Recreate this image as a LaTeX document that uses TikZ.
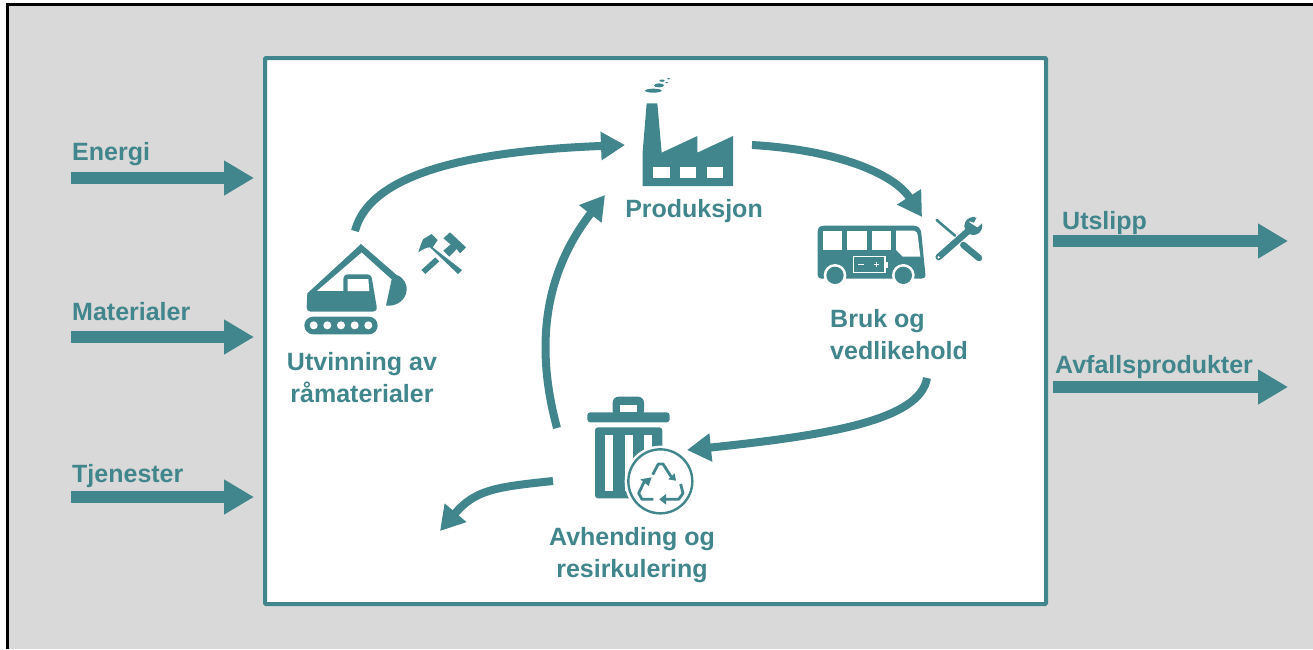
\documentclass[tikz,border=0pt]{standalone}
\usepackage{fontspec}
\setmainfont{Liberation Sans}
\usetikzlibrary{arrows.meta}
\definecolor{teal1}{HTML}{41868C}
\definecolor{panel}{HTML}{D9D9D9}
\tikzset{
  lbl/.style={text=teal1,font=\bfseries\fontsize{25}{32}\selectfont,inner sep=0pt,anchor=base west},
  clbl/.style={text=teal1,font=\bfseries\fontsize{25}{32}\selectfont,inner sep=0pt,align=center},
  flow/.style={draw=teal1,line width=11.5pt,-{Triangle[length=30pt,width=33pt]}},
  cycle/.style={draw=teal1,line width=8pt,-{Triangle[length=24pt,width=27pt]}},
  ink/.style={fill=teal1,draw=none},
  gap/.style={fill=white,draw=none},
  icon/.style={scale=0.33333}
}
\begin{document}
\begin{tikzpicture}[x=1pt,y=-1pt]
\useasboundingbox (0,0) rectangle (1313,649);
\fill[white] (0,0) rectangle (1313,649);
\fill[panel] (7,4) rectangle (1313,649);
\draw[black,line width=3pt] (7,649) -- (7,4) -- (1313,4);
\node[draw=teal1,fill=white,line width=4pt,minimum width=781pt,minimum height=546pt,inner sep=0pt,rounded corners=1pt] (system) at (655.5,331) {};

% inputs and outputs
\coordinate (inA) at (71,178); \coordinate (inAe) at (254,178);
\coordinate (inB) at (71,337); \coordinate (inBe) at (254,337);
\coordinate (inC) at (71,497); \coordinate (inCe) at (254,497);
\coordinate (outA) at (1053,241); \coordinate (outAe) at (1288,241);
\coordinate (outB) at (1053,387); \coordinate (outBe) at (1288,387);
\draw[flow] (inA) -- (inAe);
\draw[flow] (inB) -- (inBe);
\draw[flow] (inC) -- (inCe);
\draw[flow] (outA) -- (outAe);
\draw[flow] (outB) -- (outBe);
\node[lbl] (tEnergi) at (72,160) {Energi};
\node[lbl] (tMat) at (72,320) {Materialer};
\node[lbl] (tTje) at (72,482) {Tjenester};
\node[lbl] (tUts) at (1062,229) {Utslipp};
\node[lbl] (tAvf) at (1055,373) {Avfallsprodukter};

% cycle labels
\node[clbl] (tUtv) at (362,377.5) {Utvinning av\\råmaterialer};
\node[clbl] (tPro) at (694,211) {Produksjon};
\node[clbl,align=left] (tBruk) at (899,335) {Bruk og\\vedlikehold};
\node[clbl] (tAvh) at (632,555) {Avhending og\\resirkulering};

% cycle connectors
\coordinate (mine) at (355,231); \coordinate (factoryIn) at (625,145);
\coordinate (factoryOut) at (752,145); \coordinate (busIn) at (922,217);
\coordinate (busOut) at (927,378); \coordinate (binIn) at (687,450);
\coordinate (binUp) at (557,428); \coordinate (factoryIn2) at (605,195);
\coordinate (binOut) at (553,481); \coordinate (waste) at (440,531);
\draw[cycle] (mine) .. controls (372,165) and (500,150) .. (factoryIn);
\draw[cycle] (factoryOut) .. controls (840,150) and (895,175) .. (busIn);
\draw[cycle] (busOut) .. controls (920,420) and (830,435) .. (binIn);
\draw[cycle] (binUp) .. controls (540,365) and (535,285) .. (factoryIn2);
\draw[cycle] (binOut) .. controls (495,487) and (475,490) .. (waste);

% excavator
\begin{scope}[shift={(280,190)},icon]
\fill[ink] (82,310) -- (243,162) -- (350,255) .. controls (372,262) and (382,285) .. (380,300) .. controls (378,330) and (350,350) .. (318,347) -- (332,282) -- (335,268) -- (245,187) -- (110,303) -- (190,303) -- (190,270) .. controls (190,258) and (195,253) .. (205,253) -- (260,253) .. controls (270,253) and (275,258) .. (276,268) -- (290,350) .. controls (291,360) and (287,365) .. (278,365) -- (92,365) .. controls (84,365) and (80,360) .. (80,352) -- cycle;
\fill[gap] (203,267) -- (265,267) -- (268,303) -- (203,303) -- cycle;
\fill[ink,rounded corners=8.8pt] (73,380) rectangle (293,433);
\foreach \cx in {101,142,183,224,265} \fill[gap] (\cx,406) circle (12);
% hammers
\fill[ink] (415,187) .. controls (420,170) and (425,155) .. (430,147) -- (455,132) -- (473,150) -- (458,172) -- (546,240) -- (534,252) -- (450,172) .. controls (440,172) and (428,178) .. cycle;
\fill[ink] (424,240) -- (436,252) -- (478,214) -- (466,202) -- cycle;
\fill[ink] (490,182) -- (508,200) -- (530,177) -- (540,190) -- (558,172) -- (510,127) -- (490,145) -- (512,163) -- cycle;
\end{scope}

% factory
\begin{scope}[shift={(620,70)},icon]
\fill[ink] (68,348) -- (68,245) -- (80,100) -- (112,100) -- (125,248) -- (232,198) -- (232,248) -- (339,198) -- (339,348) -- cycle;
\fill[gap] (100,290) rectangle (149,323);
\fill[gap] (180,290) rectangle (228,323);
\fill[gap] (260,290) rectangle (308,323);
\fill[ink] (100,62) ellipse (25 and 6);
\fill[ink] (117,46) ellipse (15 and 6);
\fill[ink] (126,32) ellipse (8 and 3.5);
\fill[ink] (140,38) ellipse (5 and 2);
\fill[ink] (146,26) ellipse (5 and 2.5);
\end{scope}

% bus and tools
\begin{scope}[shift={(800,200)},icon]
\fill[ink] (53,95) .. controls (53,83) and (60,77) .. (72,77) -- (340,77) .. controls (355,77) and (362,85) .. (364,100) -- (376,222) .. controls (377,232) and (372,236) .. (364,236) -- (65,236) .. controls (58,236) and (53,232) .. (53,225) -- cycle;
\fill[gap] (68,92) rectangle (127,150);
\fill[gap] (142,92) rectangle (200,150);
\fill[gap] (215,92) rectangle (273,150);
\fill[gap] (288,92) -- (342,92) .. controls (350,92) and (352,100) .. (353,105) -- (361,170) -- (308,170) -- (288,150) -- cycle;
\fill[gap] (105,226) circle (34);
\fill[gap] (310,226) circle (34);
\fill[ink] (105,226) circle (26);
\fill[ink] (310,226) circle (26);
\draw[white,line width=1.6pt] (160,170) rectangle (255,218);
\fill[gap] (255,186) rectangle (263,203);
\fill[gap] (175,192) rectangle (191,196);
\fill[gap] (222,192) rectangle (238,196);
\fill[gap] (228,186) rectangle (232,202);
% screwdriver
\draw[teal1,line width=2.6pt,line cap=round] (410,60) -- (465,107);
\draw[teal1,line width=6.5pt,line cap=round] (490,135) -- (537,174);
% wrench
\draw[teal1,line width=6.5pt,line cap=round] (416,171) -- (510,88);
\fill[ink] (520,78) circle (27);
\fill[gap] (507,66) -- (530,50) -- (538,42) -- (560,42) -- (560,68) -- (548,68) -- (532,82) -- cycle;
\fill[ink] (503,62) -- (530,52) -- (522,68) -- cycle;
\fill[gap] (416,172) circle (4);
\end{scope}

% bin
\begin{scope}[shift={(570,390)},icon]
\fill[ink,rounded corners=3pt] (52,67) rectangle (299,97);
\fill[ink,rounded corners=6pt] (128,20) rectangle (222,80);
\fill[gap] (150,45) rectangle (200,67);
\fill[ink,rounded corners=3pt] (75,112) rectangle (277,325);
\fill[gap] (106,134) rectangle (130,302);
\fill[gap] (164,134) rectangle (188,302);
\fill[gap] (222,134) rectangle (246,302);
\fill[gap] (271,274) circle (107);
\draw[teal1,line width=2.4pt] (271,274) circle (96);
\begin{scope}[line join=round]
\draw[teal1,line width=2.8pt] (226,268) -- (206,310) -- (216,328) -- (250,328);
\draw[teal1,line width=2.8pt] (248,254) -- (265,222) -- (279,222) -- (306,264);
\draw[teal1,line width=2.8pt] (332,282) -- (339,310) -- (326,328) -- (285,328);
\end{scope}
\fill[ink] (245,262) -- (211,268) -- (236,288) -- cycle;
\fill[ink] (318,272) -- (295,268) -- (314,250) -- cycle;
\fill[ink] (268,328) -- (288,312) -- (288,344) -- cycle;
\end{scope}
\end{tikzpicture}
\end{document}
